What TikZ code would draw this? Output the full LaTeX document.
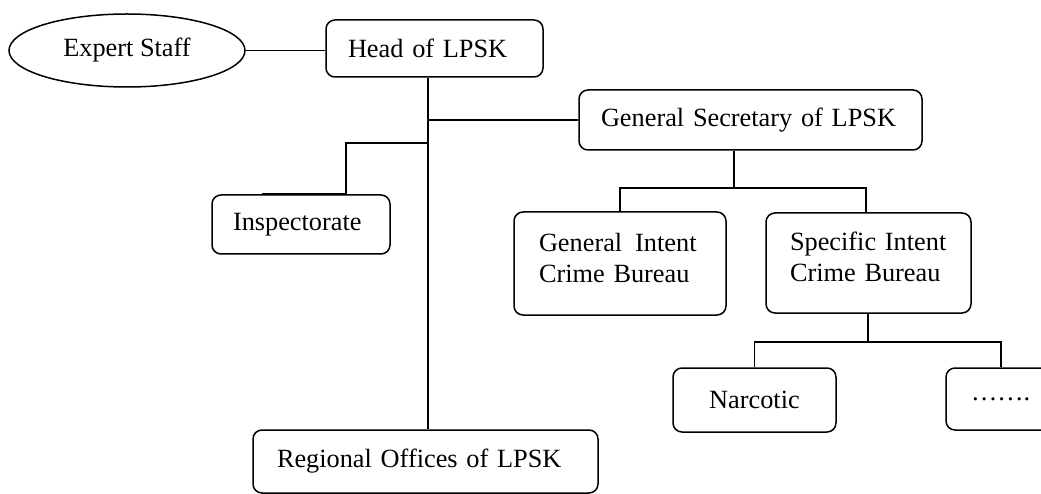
\documentclass[tikz,border=0pt]{standalone}
\usepackage{fontspec}
\setmainfont{Liberation Serif}
\usetikzlibrary{shapes.geometric}
\begin{document}
\begin{tikzpicture}[x=1pt,y=-1pt,line width=1.5pt,
  every node/.style={font=\fontsize{26.3}{31}\selectfont},
  box/.style={draw,rounded corners=9pt,inner ysep=0pt,align=left},
  cbox/.style={draw,rounded corners=9pt,inner sep=0pt,align=center},
  link/.style={draw,line width=1.5pt}]
\useasboundingbox (0,0) rectangle (1041,494);

% nodes
\node[draw,ellipse,minimum width=236pt,minimum height=73pt,inner sep=0pt] (expert) at (127,50.5) {Expert Staff};
\node[box,text width=173pt,inner xsep=22pt,minimum height=57pt] (head) at (434.5,48.5) {\mbox{Head of LPSK}};
\node[box,text width=299pt,inner xsep=22pt,minimum height=60pt] (gs) at (750.5,120) {\mbox{General Secretary of LPSK}};
\node[box,text width=136pt,inner xsep=21pt,minimum height=59pt] (insp) at (301,224.5) {\mbox{Inspectorate}};
\node[box,text width=162pt,inner xsep=25pt,minimum height=103pt] (gi) at (620,263.5) {\mbox{General\hspace{13pt}Intent}\\\mbox{Crime Bureau}\rule[-12pt]{0pt}{0pt}};
\node[box,text width=157pt,inner xsep=24pt,minimum height=100pt] (spec) at (868.5,263) {\mbox{Specific Intent}\\\mbox{Crime Bureau}\rule[-12pt]{0pt}{0pt}};
\node[cbox,minimum width=163pt,minimum height=64pt] (narc) at (754.5,400) {Narcotic};
\node[box,text width=70pt,inner xsep=25pt,minimum height=62pt] (dots) at (1006,399) {\mbox{…….}};
\node[box,text width=297pt,inner xsep=24pt,minimum height=63pt] (reg) at (425.5,461.5) {\mbox{Regional Offices of LPSK}};

% helper coordinates
\coordinate (tk) at (428,0);
\coordinate (ij) at (428,143);
\coordinate (ic) at (346,0);
\coordinate (sx) at (734,0);
\coordinate (jb) at (734,188);
\coordinate (js) at (868,342);
\coordinate (dx) at (1001,0);

% connectors
\draw[link] (expert.east) -- (expert.east -| head.west);
\draw[link] (tk |- head.south) -- (tk |- reg.north);
\draw[link] (tk |- gs.west) -- (gs.west);
\draw[link] (ij) -| (ic |- insp.north);
\draw[line width=2.2pt] (ic |- 0,194) -- (262,194);
\draw[link] (sx |- gs.south) -- (jb);
\draw[link] (gi.north) |- (jb) -| (866,0 |- spec.north);
\draw[link] (spec.south -| js) -- (js);
\draw[link] (narc.north) |- (js) -| (dx |- dots.north);
\end{tikzpicture}
\end{document}
